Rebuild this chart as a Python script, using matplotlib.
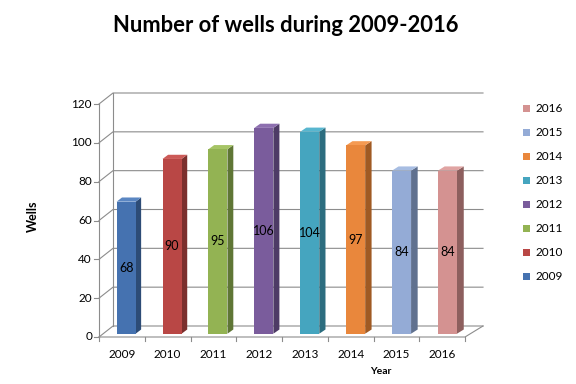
import matplotlib
matplotlib.use("Agg")
import matplotlib.pyplot as plt
from matplotlib.patches import Polygon, Rectangle

years = ["2009", "2010", "2011", "2012", "2013", "2014", "2015", "2016"]
wells = [68, 90, 95, 106, 104, 97, 84, 84]
front_colors = ["#4572B0", "#B94745", "#93B353", "#7A5C9C", "#45A5BF", "#E9873C", "#94ABD6", "#D49291"]
side_colors = ["#2D4C76", "#7B2F2D", "#5F7635", "#4E3B66", "#2C6D7F", "#A05A23", "#60718F", "#8D5F5E"]
top_colors = ["#5A86C2", "#CC5A57", "#A6C466", "#8D6FAF", "#58B6CF", "#F59A52", "#A7BDE2", "#E0A4A3"]
yticks = [0, 20, 40, 60, 80, 100, 120]

W, H = 576, 384
fig = plt.figure(figsize=(W / 100, H / 100), dpi=100)
plt.rcParams['font.family'] = ['Lato', 'DejaVu Sans']

# front plane of the plot area (pixels): x 99..465, y 337..104
x0p, x1p, y0p, y1p = 99, 465, 337, 104
ax = fig.add_axes([x0p / W, 1 - y0p / H, (x1p - x0p) / W, (y0p - y1p) / H])
n = len(years)
ax.set_xlim(-0.5, n - 0.5)
ax.set_ylim(0, 120)
ax.axis("off")

pxx = (x1p - x0p) / n          # pixels per category
pxy = (y0p - y1p) / 120.0      # pixels per unit
DY = 11 / pxy                  # depth offset in y units

def off(x):
    # depth offset in x (category units), slight perspective
    return (14 + (x + 0.5) * (4.0 / n)) / pxx

def P(x, y, f):
    return (x + f * off(x), y + f * DY)

grid_c = "#8C8C8C"
lw = 0.8

# gridlines + wall
for v in yticks:
    a, b, c = P(-0.5, v, 0), P(-0.5, v, 1), P(n - 0.5, v, 1)
    ax.plot([a[0], b[0], c[0]], [a[1], b[1], c[1]], color=grid_c, lw=lw, clip_on=False, zorder=1)
    ax.plot([a[0] - 5 / pxx, a[0]], [v, v], color=grid_c, lw=lw, clip_on=False)
    ax.text(a[0] - 7 / pxx, v, str(v), ha="right", va="center", fontsize=8.5, color="#000000")

# back wall left edge and front axis
b0, b1 = P(-0.5, 0, 1), P(-0.5, 120, 1)
ax.plot([b0[0], b1[0]], [b0[1], b1[1]], color=grid_c, lw=lw, clip_on=False, zorder=1)
ax.plot([-0.5, -0.5], [0, 120], color=grid_c, lw=lw, clip_on=False, zorder=1)
# floor front edge and right edge
r0, r1 = P(n - 0.5, 0, 0), P(n - 0.5, 0, 1)
ax.plot([-0.5, r0[0], r1[0]], [0, 0, r1[1]], color=grid_c, lw=lw, clip_on=False, zorder=1)
# x ticks
for k in range(n + 1):
    xb = k - 0.5
    ax.plot([xb, xb], [0, -4 / pxy], color=grid_c, lw=lw, clip_on=False)
for i, yr in enumerate(years):
    ax.text(i, -18 / pxy, yr, ha="center", va="center", fontsize=8.5)

# bars
w = 0.415
f0, f1 = 0.3, 0.68
for i, v in enumerate(wells):
    xl, xr = i - w / 2, i + w / 2
    front = [P(xl, 0, f0), P(xr, 0, f0), P(xr, v, f0), P(xl, v, f0)]
    side = [P(xr, 0, f0), P(xr, 0, f1), P(xr, v, f1), P(xr, v, f0)]
    top = [P(xl, v, f0), P(xr, v, f0), P(xr, v, f1), P(xl, v, f1)]
    ax.add_patch(Polygon(side, closed=True, fc=side_colors[i], ec="none", zorder=3, clip_on=False))
    ax.add_patch(Polygon(top, closed=True, fc=top_colors[i], ec="none", zorder=3, clip_on=False))
    ax.add_patch(Polygon(front, closed=True, fc=front_colors[i], ec="none", zorder=4, clip_on=False))
    cx, cy = P(i, v / 2, f0)
    ax.text(cx, cy, str(v), ha="center", va="center", fontsize=9, color="#000000", zorder=5)

# title and axis labels
fig.text(286 / W, 1 - 25 / H, "Number of wells during 2009-2016", ha="center", va="center",
         fontsize=15.8, fontweight="bold")
fig.text(33 / W, 1 - 216 / H, "Wells", ha="center", va="center", rotation=90,
         fontsize=9, fontweight="bold")
fig.text(381 / W, 1 - 372 / H, "Year", ha="center", va="center", fontsize=7.5, fontweight="bold")

# legend (reverse order)
for j, i in enumerate(reversed(range(n))):
    yc = 108 + j * 24.1
    fig.add_artist(Rectangle((523 / W, 1 - (yc + 3.5) / H), 7 / W, 7 / H,
                             transform=fig.transFigure, fc=front_colors[i], ec="none"))
    fig.text(536 / W, 1 - yc / H, years[i], ha="left", va="center", fontsize=8.5)

fig.savefig("out.png", dpi=100)
